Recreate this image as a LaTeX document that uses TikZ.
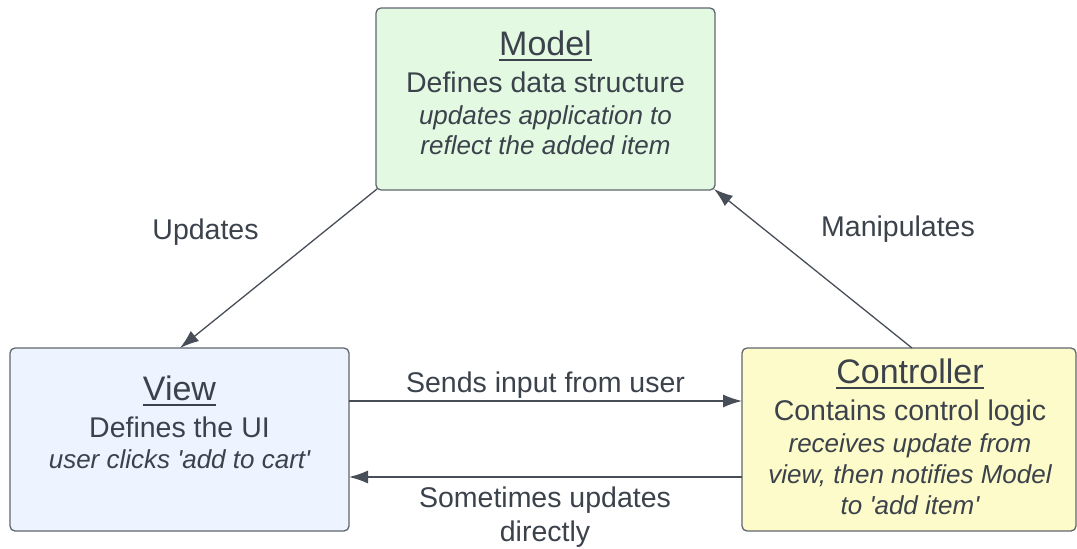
\documentclass[tikz,border=0pt]{standalone}
\usepackage{fontspec}
\setmainfont{Liberation Sans}
\usetikzlibrary{arrows.meta,calc}

\definecolor{ink}{HTML}{3B424B}
\definecolor{edge}{HTML}{5F666E}
\definecolor{wire}{HTML}{474E57}
\definecolor{modelfill}{HTML}{E3F9E2}
\definecolor{viewfill}{HTML}{EDF4FF}
\definecolor{ctrlfill}{HTML}{FDFBC9}

\tikzset{
  box/.style={draw=edge, line width=1.3pt, rounded corners=5pt,
    inner sep=0pt, outer sep=0pt},
  txt/.style={inner sep=0pt, outer sep=0pt, anchor=base, text=ink},
  title/.style={txt, font=\fontsize{34}{34}\selectfont},
  body/.style={txt, font=\fontsize{28.5}{28.5}\selectfont},
  note/.style={txt, font=\fontsize{26}{26}\selectfont\itshape},
  uline/.style={draw=ink, line width=1.6pt},
  link/.style={draw=wire, line width=1.3pt,
    -{Latex[length=19pt,width=13pt]}},
}

\begin{document}
\begin{tikzpicture}[x=1pt,y=-1pt]
\useasboundingbox (0,0) rectangle (1077,549);

% the three components
\node[box, fill=modelfill, minimum width=339pt, minimum height=182pt] (Model) at (545.5,99) {};
\node[box, fill=viewfill, minimum width=339pt, minimum height=183pt] (View) at (179.5,439.5) {};
\node[box, fill=ctrlfill, minimum width=334pt, minimum height=183pt] (Ctrl) at (909,439.5) {};

% Model text
\node[title] (mt) at (545.5,55) {Model};
\draw[uline] ([yshift=-5pt]mt.base west) -- ([yshift=-5pt]mt.base east);
\node[body] (m1) at (545.5,92) {Defines data structure};
\node[note] (m2) at (545.5,124) {updates application to};
\node[note] (m3) at (545.5,154) {reflect the added item};

% View text
\node[title] (vt) at (179.5,400) {View};
\draw[uline] ([yshift=-5pt]vt.base west) -- ([yshift=-5pt]vt.base east);
\node[body] (v1) at (179.5,437) {Defines the UI};
\node[note] (v2) at (179.5,468) {user clicks \textquotesingle add to cart\textquotesingle};

% Controller text
\node[title] (ct) at (910,383) {Controller};
\draw[uline] ([yshift=-5pt]ct.base west) -- ([yshift=-5pt]ct.base east);
\node[body] (c1) at (910,420) {Contains control logic};
\node[note] (c2) at (910,452) {receives update from};
\node[note] (c3) at (910,483) {view, then notifies Model};
\node[note] (c4) at (910,514) {to \textquotesingle add item\textquotesingle};

% connectors
\coordinate (vtop) at ($(View.north west)+(170,0)$);
\coordinate (ctop) at ($(Ctrl.north west)+(170,0)$);
\draw[link] ([xshift=1pt,yshift=1pt]Model.south west) -- (vtop);
\draw[link] (ctop) -- ([xshift=-1pt,yshift=1pt]Model.south east);
\draw[link] ([yshift=38.5pt]View.east) -- ([yshift=38.5pt]Ctrl.west);
\draw[link] ([yshift=-37.5pt]Ctrl.west) -- ([yshift=-37.5pt]View.east);

% connector labels
\node[body] (lu) at (205.5,239) {Updates};
\node[body] (lm) at (898,236) {Manipulates};
\node[body] (ls) at (545.5,392) {Sends input from user};
\node[body] (ld1) at (545,507) {Sometimes updates};
\node[body] (ld2) at (545,541) {directly};
\end{tikzpicture}
\end{document}
